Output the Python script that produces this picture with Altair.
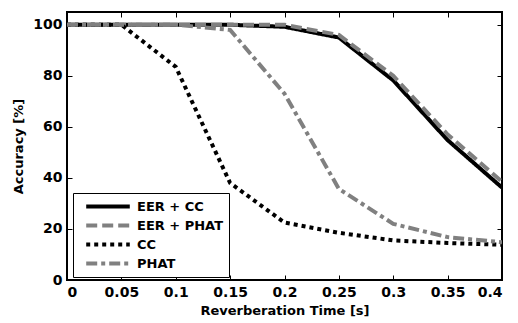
import altair as alt
import pandas as pd

t = [0, 0.05, 0.1, 0.15, 0.2, 0.25, 0.3, 0.35, 0.4]
series_names = ["EER + CC", "EER + PHAT", "CC", "PHAT"]
eer_cc = [100, 100, 100, 100, 99.2, 95, 78.2, 54.8, 36.2]
eer_phat = [100, 100, 100, 100, 100, 96, 80, 57, 38.5]
cc = [100, 100, 83.5, 38, 22.5, 18.5, 15.5, 14.5, 13.8]
phat = [100, 100, 100, 98, 73, 35.7, 22, 16.8, 14.8]

colors = ["#000000", "#808080", "#000000", "#808080"]
dashes = [[1, 0], [11, 5], [4, 4], [11, 4, 4, 4]]
x_ticks = [0, 0.05, 0.1, 0.15, 0.2, 0.25, 0.3, 0.35, 0.4]
y_ticks = [0, 20, 40, 60, 80, 100]

rows = []
for name, vals in zip(series_names, [eer_cc, eer_phat, cc, phat]):
    for tt, v in zip(t, vals):
        rows.append({"t": tt, "acc": v, "series": name})
df = pd.DataFrame(rows)

FONT = "DejaVu Sans"

xscale = alt.Scale(domain=[0, 0.4], nice=False, zero=False)
yscale = alt.Scale(domain=[0, 105], nice=False)

lines = alt.Chart(df).mark_line(strokeWidth=4, clip=True).encode(
    x=alt.X("t:Q", scale=xscale,
            axis=alt.Axis(title="Reverberation Time [s]", values=x_ticks, format="~g",
                          orient="bottom", offset=-5, tickSize=5, domain=False,
                          labelPadding=5, titlePadding=5, grid=False)),
    y=alt.Y("acc:Q", scale=yscale,
            axis=alt.Axis(title="Accuracy [%]", values=y_ticks, orient="left",
                          offset=-5, tickSize=5, domain=False, labelPadding=5,
                          titlePadding=7, grid=False)),
    color=alt.Color("series:N", scale=alt.Scale(domain=series_names, range=colors),
                    legend=alt.Legend(title=None, orient="none", legendX=6, legendY=181,
                                      symbolType="stroke", symbolSize=1900,
                                      symbolStrokeWidth=4, strokeColor="black",
                                      fillColor="white", padding=5, rowPadding=2,
                                      clipHeight=17,
                                      labelFontSize=13, labelFont=FONT,
                                      labelFontWeight="bold", labelColor="black",
                                      labelOffset=5, symbolOffset=6)),
    strokeDash=alt.StrokeDash("series:N",
                              scale=alt.Scale(domain=series_names, range=dashes),
                              legend=alt.Legend(title=None)),
    order=alt.Order("series:N"),
)

frame = alt.Chart(df).mark_line(opacity=0).encode(
    x=alt.X("t:Q", scale=xscale,
            axis=alt.Axis(title=None, values=x_ticks, labels=False, orient="top",
                          offset=-5, tickSize=5, domain=False, grid=False)),
    y=alt.Y("acc:Q", scale=yscale,
            axis=alt.Axis(title=None, values=y_ticks, labels=False, orient="right",
                          offset=-5, tickSize=5, domain=False, grid=False)),
)

chart = alt.layer(lines, frame).resolve_axis(x="independent", y="independent").properties(
    width=435, height=268,
    autosize=alt.AutoSizeParams(type="none"),
    padding={"left": 59, "top": 4, "right": 8, "bottom": 43},
).configure_view(stroke="black", strokeWidth=2).configure_axis(
    labelFont=FONT, labelFontWeight="bold", labelFontSize=14, labelColor="black",
    titleFont=FONT, titleFontWeight="bold", titleFontSize=13, titleColor="black",
    tickColor="black", tickWidth=1,
)

chart.save("out.html", embed_options={"renderer": "svg", "actions": False})
